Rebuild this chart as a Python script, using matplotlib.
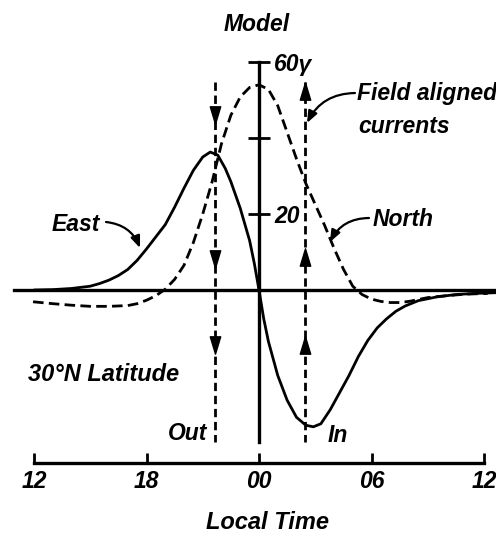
import matplotlib
matplotlib.use("Agg")
import matplotlib.pyplot as plt
from matplotlib.path import Path

# ---------------- data (local time in hours from midnight, field in gamma) -------------
east_t = [-12.0, -11.0, -10.0, -9.0, -8.5, -8.0, -7.5, -7.0, -6.5, -6.0, -5.5, -5.0,
          -4.5, -4.0, -3.5, -3.0, -2.6, -2.2, -1.8, -1.5, -1.0, -0.5, -0.25, 0.0,
          0.25, 0.5, 1.0, 1.5, 2.0, 2.5, 2.9, 3.3, 3.8, 4.3, 4.8, 5.3, 5.8, 6.3,
          6.8, 7.3, 7.8, 8.5, 9.5, 10.5, 11.5, 12.7]
east_v = [0.0, 0.1, 0.4, 1.0, 1.7, 2.6, 3.8, 5.4, 7.8, 10.8, 14.0, 17.2,
          21.8, 26.8, 31.5, 35.0, 36.3, 35.5, 32.0, 28.5, 21.5, 13.0, 7.0, 0.0,
          -7.5, -13.5, -22.5, -29.0, -33.5, -35.6, -36.0, -35.2, -31.5, -27.0, -22.5, -17.5, -13.3, -10.0,
          -7.6, -5.6, -4.2, -2.8, -1.8, -1.2, -0.9, -0.7]

north_t = [-12.05, -11.0, -10.0, -9.0, -8.0, -7.0, -6.5, -6.0, -5.5, -5.0, -4.5, -4.0,
           -3.5, -3.0, -2.5, -2.0, -1.5, -1.0, -0.5, 0.0, 0.5, 1.0, 1.5, 2.0, 2.5,
           3.0, 3.5, 4.0, 4.5, 5.0, 5.5, 6.0, 6.5, 7.0, 7.5, 8.0, 8.5, 9.0, 10.0,
           11.0, 12.2]
north_v = [-3.1, -3.6, -4.0, -4.3, -4.3, -4.1, -3.6, -2.7, -1.5, 0.2, 2.8, 6.5,
           12.5, 20.0, 28.5, 38.5, 46.0, 50.8, 53.3, 54.0, 52.8, 48.5, 41.5, 34.5, 28.0,
           22.5, 17.0, 11.0, 5.5, 1.0, -1.2, -2.4, -3.0, -3.3, -3.3, -3.0, -2.5, -2.0, -1.5,
           -1.1, -0.9]

# field aligned currents: local time of the two current sheets
out_time = -2.35
in_time = 2.45
current_top = 54.7
current_bottom = -40.0
out_arrow_levels = [46.0, 8.2, -14.5]
in_arrow_levels = [52.4, 8.7, -14.5]

time_ticks = [-12, -6, 0, 6, 12]
time_labels = ["12", "18", "00", "06", "12"]
field_ticks = [20, 40, 60]
field_labels = ["20", "", "60γ"]

# ---------------- figure ----------------
W, H = 496, 534
fig = plt.figure(figsize=(W / 100, H / 100), dpi=100)
ax = fig.add_axes([0, 0, 1, 1])
px_per_h = 18.75
px_per_g = 3.8
x0, y0 = 259, 290
ax.set_xlim(-x0 / px_per_h, (W - x0) / px_per_h)
ax.set_ylim((y0 - H) / px_per_g, y0 / px_per_g)
ax.patch.set_alpha(0)

FONT = dict(family=["Liberation Sans", "DejaVu Sans"], style="italic", weight="bold")
FS = 16.5
TFS = 16.5
LW = 2.0

# spines as the axes of the drawing
for s in ("top", "left"):
    ax.spines[s].set_visible(False)
ax.spines["bottom"].set_position(("data", (y0 - 463) / px_per_g))
ax.spines["bottom"].set_bounds(time_ticks[0], time_ticks[-1])
ax.spines["bottom"].set_linewidth(2.4)
ax.spines["right"].set_position(("data", 0))
ax.spines["right"].set_bounds(current_bottom, 60)
ax.spines["right"].set_linewidth(2.4)

ax.set_xticks(time_ticks)
ax.set_xticklabels(time_labels, fontsize=TFS, **FONT)
ax.tick_params(axis="x", direction="in", length=7.5, width=2.0, pad=5)
ax.yaxis.set_ticks_position("right")
ax.set_yticks(field_ticks)
ax.set_yticklabels(field_labels, fontsize=TFS, **FONT)
ax.tick_params(axis="y", direction="inout", length=16, width=2.0, pad=3)

# zero line
ax.axhline(0, xmin=14 / W, xmax=1, color="black", lw=2.4)

# curves
ax.plot(east_t, east_v, color="black", lw=LW, solid_capstyle="round")
ax.plot(north_t, north_v, color="black", lw=LW, linestyle=(0, (3.8, 1.9)))

# field aligned current lines with arrows
down = Path([(-0.6, 1), (0.6, 1), (0, -1), (-0.6, 1)], closed=True)
up = Path([(-0.6, -1), (0.6, -1), (0, 1), (-0.6, -1)], closed=True)
ax.plot([out_time, out_time], [current_top, current_bottom], color="black", lw=LW,
        linestyle=(0, (3.0, 1.7)))
ax.plot([in_time, in_time], [current_top, current_bottom], color="black", lw=LW,
        linestyle=(0, (3.0, 1.7)))
ax.plot([out_time] * len(out_arrow_levels), out_arrow_levels, linestyle="none",
        marker=down, markersize=12.5, color="black")
ax.plot([in_time] * len(in_arrow_levels), in_arrow_levels, linestyle="none",
        marker=up, markersize=12.5, color="black")

def hx(px):
    return (px - x0) / px_per_h

def vy(py):
    return (y0 - py) / px_per_g

ax.text(hx(257), vy(31), "Model", ha="center", va="baseline", fontsize=FS, **FONT)
ax.text(hx(357), vy(100), "Field aligned", ha="left", va="baseline", fontsize=FS, **FONT)
ax.text(hx(358), vy(133), "currents", ha="left", va="baseline", fontsize=FS, **FONT)
ax.text(hx(373), vy(226), "North", ha="left", va="baseline", fontsize=FS, **FONT)
ax.text(hx(52), vy(231), "East", ha="left", va="baseline", fontsize=FS, **FONT)
ax.text(hx(28), vy(381), "30°N Latitude", ha="left", va="baseline", fontsize=FS + 0.5, **FONT)
ax.text(hx(168), vy(440), "Out", ha="left", va="baseline", fontsize=FS, **FONT)
ax.text(hx(328), vy(442), "In", ha="left", va="baseline", fontsize=FS, **FONT)
ax.text(hx(267), vy(529), "Local Time", ha="center", va="baseline", fontsize=FS + 0.5, **FONT)

arrow = dict(arrowstyle="-|>,head_length=0.5,head_width=0.2", color="black", lw=1.6,
             shrinkA=0, shrinkB=0, mutation_scale=14)
ax.annotate("", xy=(hx(140), vy(248)), xytext=(hx(106), vy(222)),
            arrowprops=dict(arrow, connectionstyle="arc3,rad=-0.3"))
ax.annotate("", xy=(hx(330), vy(242)), xytext=(hx(369), vy(218)),
            arrowprops=dict(arrow, connectionstyle="arc3,rad=0.3"))
ax.annotate("", xy=(hx(307), vy(123)), xytext=(hx(355), vy(93)),
            arrowprops=dict(arrow, connectionstyle="arc3,rad=0.3"))

fig.savefig("out.png", dpi=100)
